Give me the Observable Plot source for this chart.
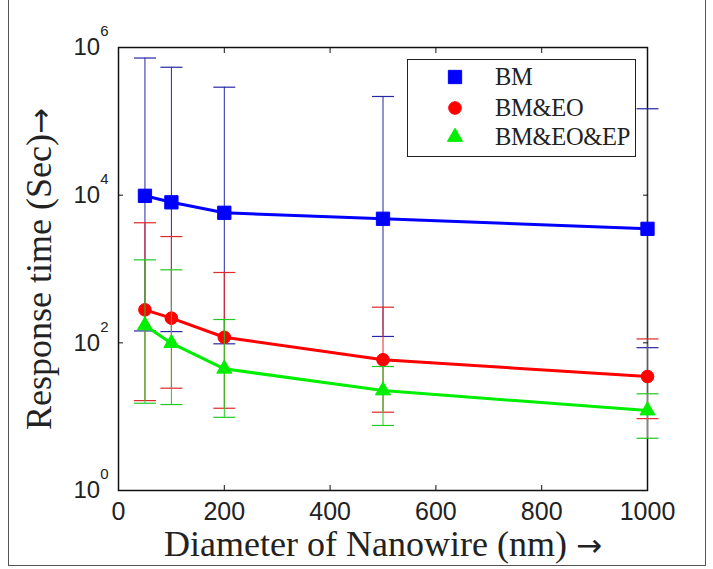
<!DOCTYPE html>
<html><head><meta charset="utf-8">
<script src="https://cdn.jsdelivr.net/npm/d3@7"></script>
<script src="https://cdn.jsdelivr.net/npm/@observablehq/plot@0.6"></script>
<style>
body{margin:0;background:#fff;}
#wrap{position:relative;width:713px;height:569px;overflow:hidden;background:#fff;}
#wrap svg{position:absolute;left:0;top:0;}
#border{position:absolute;left:8px;top:-3px;width:698px;height:569px;border:1.5px solid #555;box-sizing:border-box;pointer-events:none;}
#legend{position:absolute;left:407px;top:59px;width:229px;height:98px;border:1px solid #222;background:#fff;box-sizing:border-box;font-family:"Liberation Serif","Times New Roman",serif;font-size:24.5px;color:#222;}
#legend .row{position:absolute;left:0;height:28px;width:100%;}
#legend .row svg{position:absolute;left:35px;top:1px;}
#legend .row span{position:absolute;left:87px;top:0;line-height:28px;letter-spacing:-0.3px;}
g[aria-label="x-axis label"] text, g[aria-label="y-axis label"] text{font-family:"Liberation Serif","Times New Roman",serif;font-size:36px;fill:#222;}
</style>
</head><body>
<div id="wrap"><div id="border"></div></div>
<script>
// ---- data ----
const diameters = [50, 100, 200, 500, 1000];
const xTicks = [0, 200, 400, 600, 800, 1000];
const yTicks = [1, 1e2, 1e4, 1e6];
const seriesNames = ["BM", "BM&EO", "BM&EO&EP"];
const seriesColors = ["#0000ff", "#ff0000", "#00ee00"];
const barColors = ["#2626a8", "#e02828", "#22c822"];
const seriesSymbols = ["square", "circle", "triangle"];
const bmMean  = [9800, 8000, 5770, 4790, 3500];
const bmUpper = [720000, 540000, 290000, 217000, 148000];
const bmLower = [145, 142, 97, 122, 86];
const eoMean  = [280, 216, 119, 59, 35];
const eoUpper = [4230, 2750, 897, 304, 113];
const eoLower = [16.5, 24.3, 13, 11.5, 9.4];
const epMean  = [172, 99, 44.5, 22.6, 12.1];
const epUpper = [1330, 975, 207, 47.8, 20.4];
const epLower = [15.2, 14.6, 9.8, 7.6, 5.1];
const xTitle = "Diameter of Nanowire (nm) →";
const yTitle = "Response time (Sec)→";

const seriesData = [[bmMean, bmLower, bmUpper], [eoMean, eoLower, eoUpper], [epMean, epLower, epUpper]]
  .map(([m, lo, hi], k) => diameters.map((d, i) => ({d, v: m[i], lo: lo[i], hi: hi[i], s: seriesNames[k]})));

const capSymbol = {draw(ctx, size) { const r = Math.sqrt(size / Math.PI); ctx.moveTo(-r, 0); ctx.lineTo(r, 0); }};
const markerR = [7.5, 6.3, 5.6];

const marks = [Plot.frame({stroke: "#111", strokeWidth: 1.5})];
seriesData.forEach((data, k) => {
  marks.push(
    Plot.ruleX(data, {x: "d", y1: "lo", y2: "hi", stroke: barColors[k], strokeWidth: 1}),
    Plot.dot(data, {x: "d", y: "hi", symbol: capSymbol, r: 11, stroke: barColors[k], strokeWidth: 1.2}),
    Plot.dot(data, {x: "d", y: "lo", symbol: capSymbol, r: 11, stroke: barColors[k], strokeWidth: 1.2}),
    Plot.line(data, {x: "d", y: "v", stroke: seriesColors[k], strokeWidth: 3}),
    Plot.dot(data, {x: "d", y: "v", symbol: seriesSymbols[k], r: markerR[k], fill: seriesColors[k], stroke: seriesColors[k], strokeWidth: 1})
  );
});
marks.push(
  Plot.axisX({ticks: xTicks, tickSize: 0, tickPadding: 12, fontSize: 25, fill: "#222", tickFormat: d => String(d), label: xTitle, labelAnchor: "center", labelOffset: 65, labelArrow: "none"}),
  Plot.axisX({ticks: xTicks, anchor: "bottom", tickSize: -5, tickFormat: () => "", label: null, stroke: "#111"}),
  Plot.axisX({ticks: xTicks, anchor: "top", tickSize: -5, tickFormat: () => "", label: null, stroke: "#111"}),
  Plot.axisY({ticks: yTicks, tickSize: 0, tickPadding: 10, fontSize: 24, fill: "#222", tickFormat: d => "10^" + Math.round(Math.log10(d)), label: yTitle, labelAnchor: "center", labelOffset: 93, labelArrow: "none"}),
  Plot.axisY({ticks: yTicks, anchor: "left", tickSize: -5, tickFormat: () => "", label: null, stroke: "#111"}),
  Plot.axisY({ticks: yTicks, anchor: "right", tickSize: -5, tickFormat: () => "", label: null, stroke: "#111"})
);

const chart = Plot.plot({
  width: 713, height: 569,
  marginLeft: 118, marginRight: 66, marginTop: 47, marginBottom: 79,
  x: {domain: [0, 1000]},
  y: {type: "log", domain: [1, 1e6]},
  style: {background: "transparent", fontFamily: "'Liberation Sans', Arial, sans-serif", overflow: "visible"},
  marks
});

// superscript exponents on y tick labels
d3.select(chart).selectAll('g[aria-label="y-axis tick label"] text').each(function() {
  const t = this.textContent;
  if (!t.includes("^")) return;
  const [b, e] = t.split("^");
  const s = d3.select(this);
  s.text(b);
  s.append("tspan").attr("dy", -19).attr("font-size", 15).text(e);
});

// larger arrow glyph in the axis titles
d3.select(chart).selectAll('g[aria-label="x-axis label"] text, g[aria-label="y-axis label"] text').each(function() {
  const t = this.textContent;
  const i = t.indexOf("→");
  if (i < 0) return;
  const s = d3.select(this);
  s.text(t.slice(0, i));
  s.append("tspan").style("font-family", "'DejaVu Sans', sans-serif").style("font-size", "31px").text("→");
});

const wrap = document.getElementById("wrap");
wrap.insertBefore(chart, wrap.firstChild);

// legend
const legend = d3.select(wrap).append("div").attr("id", "legend");
seriesNames.forEach((name, k) => {
  const row = legend.append("div").attr("class", "row").style("top", [3, 34, 63][k] + "px");
  const svg = row.append("svg").attr("width", 24).attr("height", 26);
  const sym = {square: d3.symbolSquare, circle: d3.symbolCircle, triangle: d3.symbolTriangle}[seriesSymbols[k]];
  svg.append("path").attr("transform", "translate(12,13)")
    .attr("d", d3.symbol(sym, Math.PI * markerR[k] * markerR[k])())
    .attr("fill", seriesColors[k]).attr("stroke", seriesColors[k]);
  row.append("span").text(name);
});
</script>
</body></html>
